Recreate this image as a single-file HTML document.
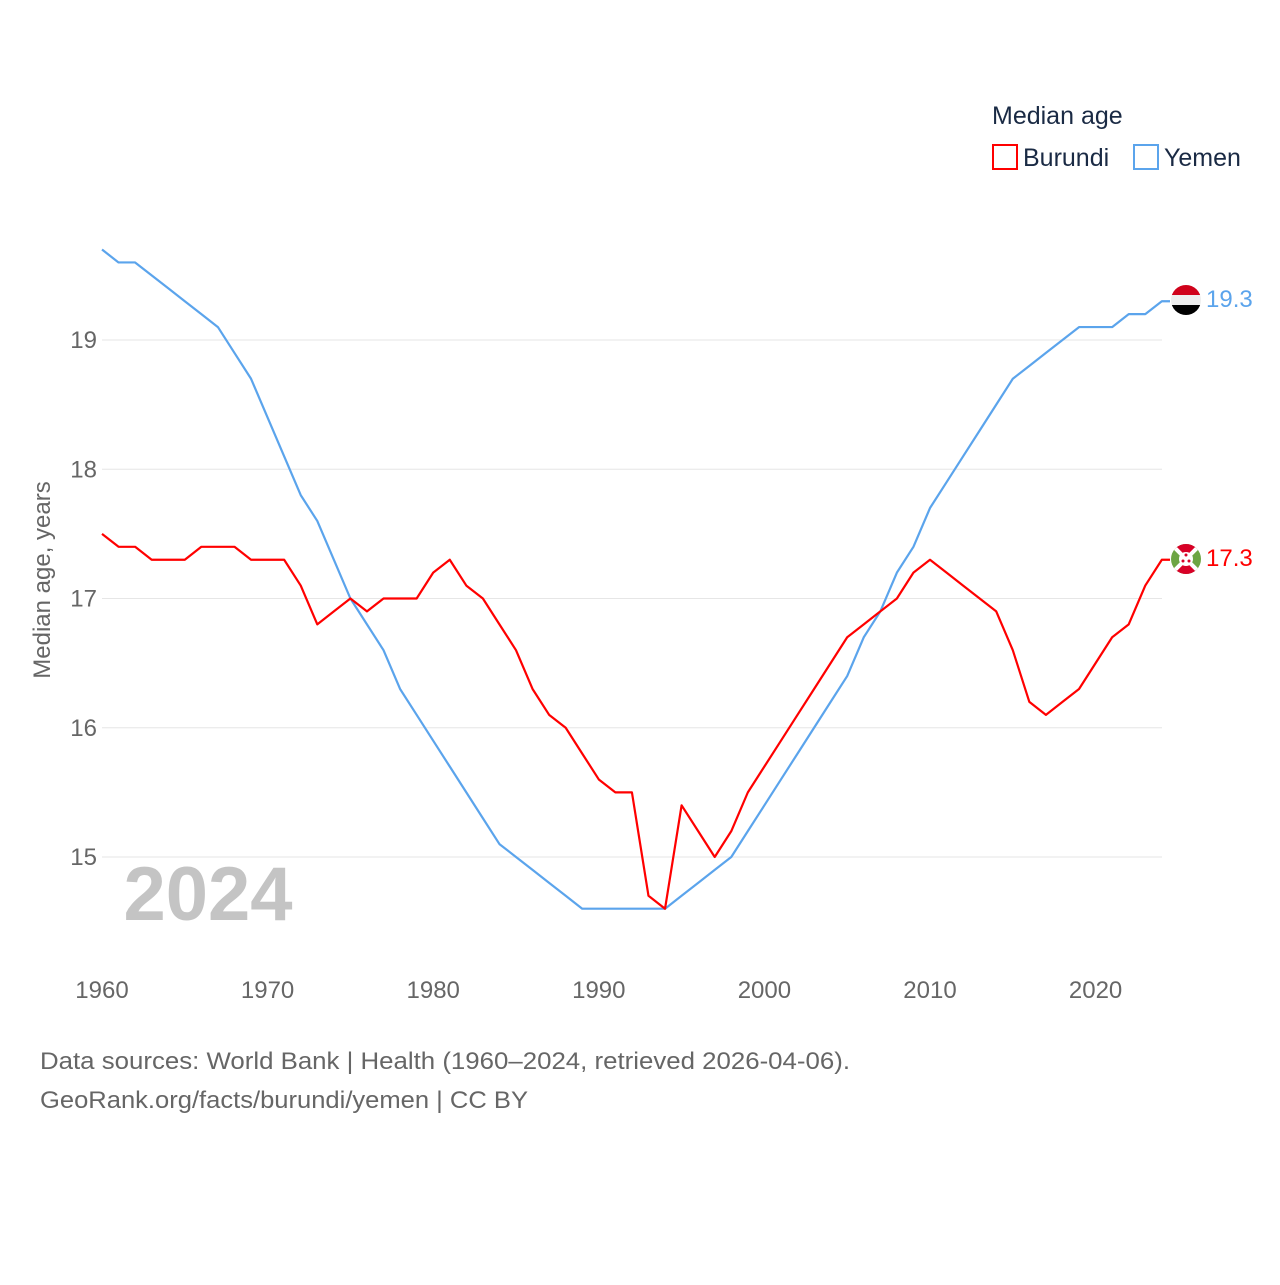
<!DOCTYPE html>
<html><head><meta charset="utf-8"><style>
body{margin:0;background:#fff;font-family:"Liberation Sans",sans-serif;}
svg text{font-family:"Liberation Sans",sans-serif;}
</style></head><body>
<svg width="1280" height="1280" xmlns="http://www.w3.org/2000/svg">
<g id="grid"></g>
<text x="208" y="920" font-size="76" font-weight="bold" fill="#c4c4c4" text-anchor="middle">2024</text>
<text transform="translate(50,580) rotate(-90)" font-size="24" fill="#666" text-anchor="middle">Median age, years</text>
<g id="xt"></g><g id="lines"></g>
<text x="992" y="124" font-size="25" fill="#1a2a44">Median age</text>
<rect x="993" y="145" width="24" height="24" fill="none" stroke="#ff0000" stroke-width="2"/>
<text x="1023" y="166" font-size="25" fill="#1a2a44">Burundi</text>
<rect x="1134" y="145" width="24" height="24" fill="none" stroke="#5ba4ec" stroke-width="2"/>
<text x="1164" y="166" font-size="25" fill="#1a2a44">Yemen</text>
<defs><clipPath id="c1"><circle cx="1186" cy="300" r="15"/></clipPath><clipPath id="c2"><circle cx="1186" cy="559" r="15"/></clipPath></defs>
<g clip-path="url(#c1)"><rect x="1170" y="284" width="32" height="11" fill="#d0021b"/><rect x="1170" y="295" width="32" height="10" fill="#eee"/><rect x="1170" y="305" width="32" height="11" fill="#000"/></g>
<g clip-path="url(#c2)"><rect x="1170" y="543" width="32" height="32" fill="#6da544"/><polygon points="1171,544 1201,544 1186,559" fill="#d80027"/><polygon points="1171,574 1201,574 1186,559" fill="#d80027"/><line x1="1171" y1="544" x2="1201" y2="574" stroke="#fff" stroke-width="4"/><line x1="1201" y1="544" x2="1171" y2="574" stroke="#fff" stroke-width="4"/><circle cx="1186" cy="559" r="7" fill="#fff"/><circle cx="1186" cy="555" r="1.5" fill="#d80027"/><circle cx="1183" cy="561" r="1.5" fill="#d80027"/><circle cx="1189" cy="561" r="1.5" fill="#d80027"/></g>
<text x="1206" y="307" font-size="24" fill="#5ba4ec">19.3</text>
<text x="1206" y="566" font-size="24" fill="#ff0000">17.3</text>
<text x="40" y="1069" font-size="24" fill="#666" textLength="810" lengthAdjust="spacingAndGlyphs">Data sources: World Bank | Health (1960–2024, retrieved 2026-04-06).</text>
<text x="40" y="1108" font-size="24" fill="#666" textLength="488" lengthAdjust="spacingAndGlyphs">GeoRank.org/facts/burundi/yemen | CC BY</text>
</svg>
<script>
const years=[];for(let y=1960;y<=2024;y++)years.push(y);
const yemen=[19.7,19.6,19.6,19.5,19.4,19.3,19.2,19.1,18.9,18.7,18.4,18.1,17.8,17.6,17.3,17.0,16.8,16.6,16.3,16.1,15.9,15.7,15.5,15.3,15.1,15.0,14.9,14.8,14.7,14.6,14.6,14.6,14.6,14.6,14.6,14.7,14.8,14.9,15.0,15.2,15.4,15.6,15.8,16.0,16.2,16.4,16.7,16.9,17.2,17.4,17.7,17.9,18.1,18.3,18.5,18.7,18.8,18.9,19.0,19.1,19.1,19.1,19.2,19.2,19.3];
const burundi=[17.5,17.4,17.4,17.3,17.3,17.3,17.4,17.4,17.4,17.3,17.3,17.3,17.1,16.8,16.9,17.0,16.9,17.0,17.0,17.0,17.2,17.3,17.1,17.0,16.8,16.6,16.3,16.1,16.0,15.8,15.6,15.5,15.5,14.7,14.6,15.4,15.2,15.0,15.2,15.5,15.7,15.9,16.1,16.3,16.5,16.7,16.8,16.9,17.0,17.2,17.3,17.2,17.1,17.0,16.9,16.6,16.2,16.1,16.2,16.3,16.5,16.7,16.8,17.1,17.3];
const yTicks=[15,16,17,18,19];
const xTicks=[1960,1970,1980,1990,2000,2010,2020];
const X=y=>102+(y-1960)*16.56, Y=v=>857-(v-15)*129.25;
const NS="http://www.w3.org/2000/svg";
const mk=(t,a,p)=>{const e=document.createElementNS(NS,t);for(const k in a)e.setAttribute(k,a[k]);document.getElementById(p).appendChild(e);return e;};
yTicks.forEach(v=>{
 const l=mk('line',{x1:102,x2:1162,y1:Y(v),y2:Y(v),stroke:'#e6e6e6','stroke-width':1},'grid');
 
 
 const t=mk('text',{x:97,y:Y(v)+8,'font-size':24,fill:'#666','text-anchor':'end'},'grid');t.textContent=v;
 
 
});
xTicks.forEach(v=>{
 const t=mk('text',{x:X(v),y:998,'font-size':24,fill:'#666','text-anchor':'middle'},'xt');t.textContent=v;
 
 
});
function line(vals,col,name){
 let d=vals.map((v,i)=>(i?'L':'M')+X(years[i])+','+Y(v)).join('');
 d+='L1170,'+Y(vals[vals.length-1]);
 const p=mk('path',{d:d,fill:'none',stroke:col,'stroke-width':2.2,'stroke-linejoin':'round'},'lines');
 
 
}
line(yemen,'#5ba4ec','yemen-line');
line(burundi,'#ff0000','burundi-line');
</script>
</body></html>
